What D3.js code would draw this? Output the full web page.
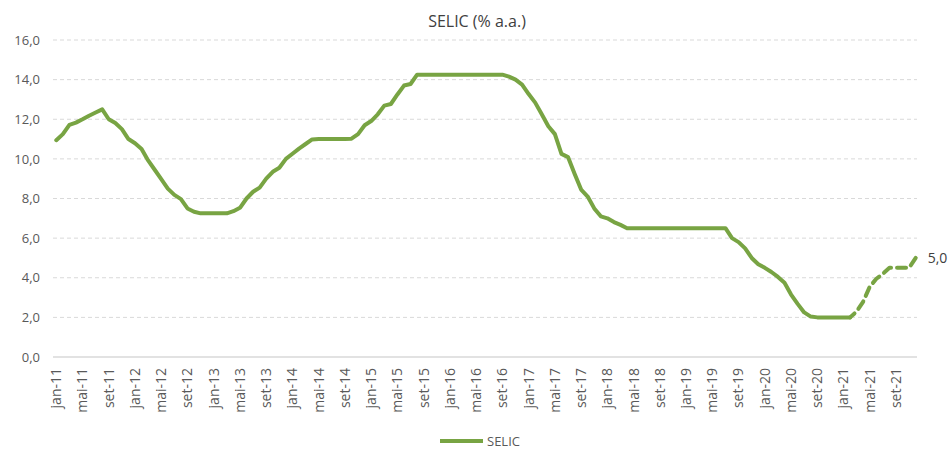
<!DOCTYPE html>
<html>
<head>
<meta charset="utf-8">
<script src="https://cdn.jsdelivr.net/npm/d3@7"></script>
<style>
  html, body { margin: 0; padding: 0; background: #fff; }
  svg text { font-family: 'Open Sans', 'Noto Sans', sans-serif; }
</style>
</head>
<body>
<svg id="chart" width="951" height="450"></svg>
<script>
// month labels (pt-BR), jan-11 .. dez-21
const monthNames = ['jan', 'fev', 'mar', 'abr', 'mai', 'jun', 'jul', 'ago', 'set', 'out', 'nov', 'dez'];
const years = ['11', '12', '13', '14', '15', '16', '17', '18', '19', '20', '21'];
const months = years.flatMap(y => monthNames.map(m => `${m}-${y}`));

// SELIC, monthly average (% a.a.), realised up to fev-21
const selic = [
  10.94, 11.25, 11.72, 11.83, 12.00, 12.18, 12.34, 12.50, 12.00, 11.81, 11.50, 11.00, // 2011
  10.79, 10.50, 9.92, 9.45, 8.98, 8.50, 8.18, 7.97, 7.50, 7.33, 7.25, 7.25,           // 2012
  7.25, 7.25, 7.25, 7.36, 7.53, 8.00, 8.34, 8.55, 9.00, 9.35, 9.55, 10.00,            // 2013
  10.26, 10.52, 10.75, 10.98, 11.00, 11.00, 11.00, 11.00, 11.00, 11.02, 11.25, 11.70, // 2014
  11.91, 12.25, 12.69, 12.77, 13.25, 13.70, 13.78, 14.25, 14.25, 14.25, 14.25, 14.25, // 2015
  14.25, 14.25, 14.25, 14.25, 14.25, 14.25, 14.25, 14.25, 14.25, 14.15, 14.00, 13.75, // 2016
  13.27, 12.84, 12.25, 11.65, 11.25, 10.25, 10.09, 9.25, 8.45, 8.10, 7.50, 7.10,      // 2017
  7.00, 6.81, 6.67, 6.50, 6.50, 6.50, 6.50, 6.50, 6.50, 6.50, 6.50, 6.50,             // 2018
  6.50, 6.50, 6.50, 6.50, 6.50, 6.50, 6.50, 6.00, 5.80, 5.48, 5.00, 4.68,             // 2019
  4.50, 4.29, 4.04, 3.75, 3.15, 2.68, 2.25, 2.04, 2.00, 2.00, 2.00, 2.00,             // 2020
  2.00, 2.00                                                                          // 2021
];

// projection fev-21 .. dez-21 (dashed)
const selicProj = [2.00, 2.30, 2.80, 3.55, 3.95, 4.20, 4.50, 4.50, 4.50, 4.50, 5.00];

const yTicks = [0, 2, 4, 6, 8, 10, 12, 14, 16];
const lastLabel = '5,0';

const GREEN = '#78a443';
const GRID = '#d9d9d9';
const TEXT = '#595959';

const plot = { left: 53, right: 919, top: 40, bottom: 357 };

const svg = d3.select('#chart');

const x = d3.scaleBand()
  .domain(months)
  .range([plot.left, plot.right])
  .padding(0);

const y = d3.scaleLinear()
  .domain([0, 16])
  .range([plot.bottom, plot.top]);

const cx = m => x(m) + x.bandwidth() / 2;
const fmt = v => d3.format('.1f')(v).replace('.', ',');

// title
svg.append('text')
  .attr('x', 477)
  .attr('y', 27)
  .attr('text-anchor', 'middle')
  .style('font-size', '16px')
  .style('fill', '#404040')
  .text('SELIC (% a.a.)');

// grid lines
svg.append('g')
  .selectAll('line')
  .data(yTicks.filter(d => d > 0))
  .enter()
  .append('line')
  .attr('x1', plot.left)
  .attr('x2', plot.right - 2)
  .attr('y1', d => y(d))
  .attr('y2', d => y(d))
  .style('stroke', GRID)
  .style('stroke-width', 1)
  .style('stroke-dasharray', '4,3');

// y axis labels
const yAxis = svg.append('g')
  .attr('transform', `translate(${plot.left},0)`)
  .call(d3.axisLeft(y).tickValues(yTicks).tickFormat(fmt).tickSize(0).tickPadding(13));
yAxis.select('.domain').remove();
yAxis.selectAll('text')
  .style('font-size', '13px')
  .style('fill', TEXT);

// x axis
const xAxis = svg.append('g')
  .attr('transform', `translate(0,${plot.bottom})`)
  .call(d3.axisBottom(x).tickValues(months.filter((m, i) => i % 4 === 0)).tickSize(0));
xAxis.select('.domain')
  .attr('d', `M${plot.left},0H${plot.right - 2}`)
  .style('stroke', GRID)
  .style('stroke-width', 1.5);
xAxis.selectAll('text')
  .attr('transform', 'rotate(-90)')
  .attr('x', -11)
  .attr('y', 0)
  .attr('dy', '0.35em')
  .attr('text-anchor', 'end')
  .style('font-size', '14px')
  .style('fill', TEXT);

// series
const line = d3.line()
  .x(d => cx(d.m))
  .y(d => y(d.v));

const realised = selic.map((v, i) => ({ m: months[i], v }));
const offset = selic.length - 1;
const projected = selicProj.map((v, i) => ({ m: months[offset + i], v }));

svg.append('path')
  .datum(realised)
  .attr('d', line)
  .style('fill', 'none')
  .style('stroke', GREEN)
  .style('stroke-width', 4)
  .style('stroke-linejoin', 'round')
  .style('stroke-linecap', 'round');

// drawn from the last point backwards so the dash pattern starts at 5,0
svg.append('path')
  .datum(projected.slice().reverse())
  .attr('d', line)
  .style('fill', 'none')
  .style('stroke', GREEN)
  .style('stroke-width', 4)
  .style('stroke-dasharray', '9,6')
  .style('stroke-linejoin', 'round')
  .style('stroke-linecap', 'round');

// end label
const last = projected[projected.length - 1];
svg.append('text')
  .attr('x', cx(last.m) + 12)
  .attr('y', y(last.v))
  .attr('dy', '0.35em')
  .style('font-size', '14px')
  .style('fill', '#404040')
  .text(lastLabel);

// legend
const legend = svg.append('g').attr('transform', 'translate(440,441)');
legend.append('line')
  .attr('x1', 0)
  .attr('x2', 43)
  .style('stroke', GREEN)
  .style('stroke-width', 4);
legend.append('text')
  .attr('x', 47)
  .attr('dy', '0.35em')
  .style('font-size', '13px')
  .style('fill', TEXT)
  .text('SELIC');
</script>
</body>
</html>
